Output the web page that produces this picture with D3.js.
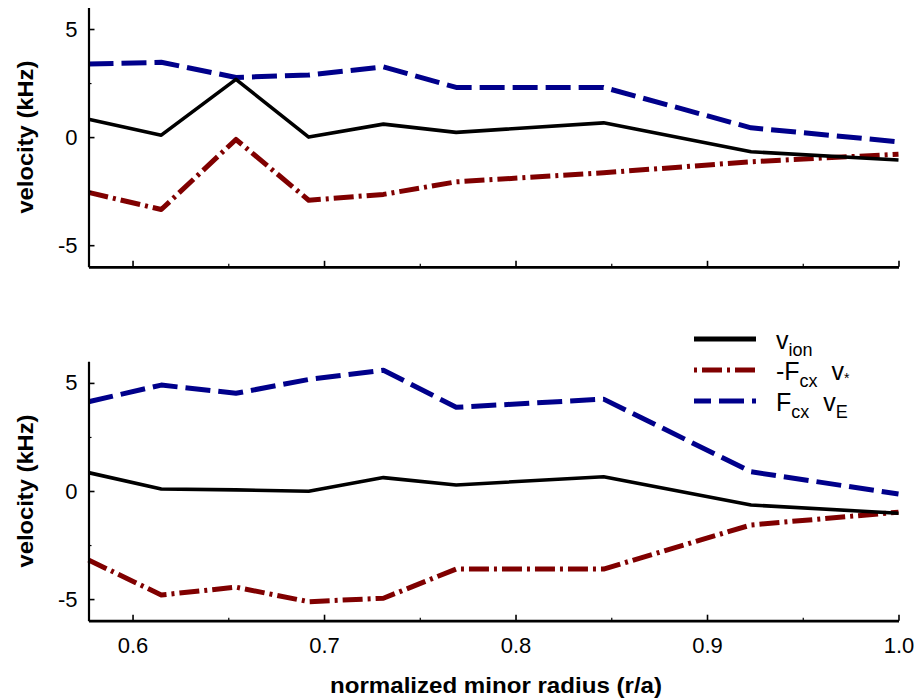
<!DOCTYPE html>
<html><head><meta charset="utf-8">
<script src="https://cdn.jsdelivr.net/npm/d3@7"></script>
<style>
body{margin:0;background:#fff}
svg{display:block}
text{font-family:"Liberation Sans",Arial,Helvetica,sans-serif;fill:#000}
</style>
</head><body>
<svg id="chart" width="918" height="700"></svg>
<script>
// ---- data ----
const radius = [0.577, 0.615, 0.654, 0.692, 0.731, 0.769, 0.846, 0.923, 1.0];

const topIon   = [0.83, 0.09, 2.67, 0.00, 0.60, 0.22, 0.66, -0.68, -1.06];
const topStar  = [-2.56, -3.35, -0.11, -2.92, -2.65, -2.07, -1.65, -1.14, -0.79];
const topE     = [3.38, 3.46, 2.76, 2.87, 3.25, 2.30, 2.30, 0.43, -0.22];

const botIon   = [0.85, 0.09, 0.05, -0.01, 0.62, 0.28, 0.66, -0.65, -1.03];
const botStar  = [-3.19, -4.81, -4.45, -5.12, -4.96, -3.61, -3.61, -1.57, -0.98];
const botE     = [4.13, 4.90, 4.52, 5.16, 5.59, 3.87, 4.25, 0.89, -0.14];

const xMajorTicks = [0.6, 0.7, 0.8, 0.9, 1.0];
const xMinorTicks = [0.65, 0.75, 0.85, 0.95];
const xTickLabels = ["0.6", "0.7", "0.8", "0.9", "1.0"];
const yMajorTicks = [-5, 0, 5];
const yMinorTicks = [-2.5, 2.5];
const yTickLabels = ["-5", "0", "5"];

const xTitle = "normalized minor radius (r/a)";
const yTitle = "velocity (kHz)";

// ---- drawing ----
const svg = d3.select("#chart");
const x = d3.scaleLinear().domain([0.577, 1.0]).range([88.5, 898.5]);

const panels = [
  {ion: topIon, star: topStar, E: topE, range: [266.8, 7.4], labels: false},
  {ion: botIon, star: botStar, E: botE, range: [620.7, 361.3], labels: true}
];

const styles = {
  ion:  {color: "#000000", width: 3.6, dash: null},
  star: {color: "#800000", width: 5, dash: "20,5,3,5"},
  E:    {color: "#00008b", width: 5, dash: "25,8"}
};

panels.forEach(p => {
  const y = d3.scaleLinear().domain([-6, 6]).range(p.range);
  const g = svg.append("g");
  const base = p.range[0];

  // lines
  const line = d3.line().x((d, i) => x(radius[i])).y(d => y(d));
  [["E", p.E], ["star", p.star], ["ion", p.ion]].forEach(([k, vals]) => {
    const s = styles[k];
    g.append("path").datum(vals)
      .attr("d", line)
      .attr("fill", "none")
      .attr("stroke", s.color)
      .attr("stroke-width", s.width)
      .attr("stroke-linejoin", "round")
      .attr("stroke-dasharray", s.dash);
  });

  // x axis
  const xa = g.append("g").attr("transform", `translate(0,${base})`)
    .call(d3.axisBottom(x).tickValues(xMajorTicks).tickSize(-6).tickSizeOuter(0).tickPadding(17)
      .tickFormat((d, i) => p.labels ? xTickLabels[i] : ""));
  xa.select(".domain").attr("stroke-width", 2.8);
  xa.selectAll(".tick line").attr("stroke-width", 1.6);
  xa.selectAll("text").style("font-size", "22px");
  const xm = g.append("g").attr("transform", `translate(0,${base})`)
    .call(d3.axisBottom(x).tickValues(xMinorTicks).tickSize(-3).tickFormat(""));
  xm.select(".domain").remove();
  xm.selectAll(".tick line").attr("stroke-width", 1.2);

  // y axis
  const ya = g.append("g").attr("transform", `translate(${x.range()[0]},0)`)
    .call(d3.axisLeft(y).tickValues(yMajorTicks).tickSize(-6).tickSizeOuter(0).tickPadding(11)
      .tickFormat((d, i) => yTickLabels[i]));
  ya.select(".domain").attr("stroke-width", 2.2);
  ya.selectAll(".tick line").attr("stroke-width", 1.6);
  ya.selectAll("text").style("font-size", "22px");
  const ym = g.append("g").attr("transform", `translate(${x.range()[0]},0)`)
    .call(d3.axisLeft(y).tickValues(yMinorTicks).tickSize(-3).tickFormat(""));
  ym.select(".domain").remove();
  ym.selectAll(".tick line").attr("stroke-width", 1.2);

  // y title
  g.append("text")
    .attr("transform", `translate(33,${(p.range[0] + p.range[1]) / 2}) rotate(-90)`)
    .attr("text-anchor", "middle")
    .attr("font-weight", "bold")
    .attr("font-size", 22)
    .attr("textLength", 153)
    .attr("lengthAdjust", "spacingAndGlyphs")
    .text(yTitle);
});

// x title
svg.append("text")
  .attr("x", 496).attr("y", 693)
  .attr("text-anchor", "middle")
  .attr("font-weight", "bold")
  .attr("font-size", 22)
  .attr("textLength", 332)
  .attr("lengthAdjust", "spacingAndGlyphs")
  .text(xTitle);

// legend
const legendItems = [
  {key: "ion", main: "v", sub: "ion"},
  {key: "star", main: "-F", sub: "cx", main2: "  v", sub2: "*"},
  {key: "E", main: "F", sub: "cx", main2: "  v", sub2: "E"}
];
const legendOffsets = {ion: 0, star: 25, E: 8};
const lg = svg.append("g");
legendItems.forEach((it, i) => {
  const yy = 339 + i * 31;
  const s = styles[it.key];
  lg.append("line")
    .attr("x1", 694).attr("x2", 756).attr("y1", yy).attr("y2", yy)
    .attr("stroke", s.color)
    .attr("stroke-width", 5)
    .attr("stroke-dasharray", s.dash)
    .attr("stroke-dashoffset", legendOffsets[it.key]);
  const t = lg.append("text").attr("x", 776).attr("y", yy + 10).attr("font-size", 25)
    .attr("xml:space", "preserve").style("white-space", "pre");
  t.append("tspan").text(it.main);
  t.append("tspan").attr("font-size", 18).attr("dy", 7).text(it.sub);
  if (it.main2) {
    t.append("tspan").attr("dy", -7).text(it.main2);
    if (it.sub2 === "*") {
      t.append("tspan").attr("font-size", 14).attr("dy", 3).text(it.sub2);
    } else {
      t.append("tspan").attr("font-size", 18).attr("dy", 7).text(it.sub2);
    }
  }
});
</script>
</body></html>
